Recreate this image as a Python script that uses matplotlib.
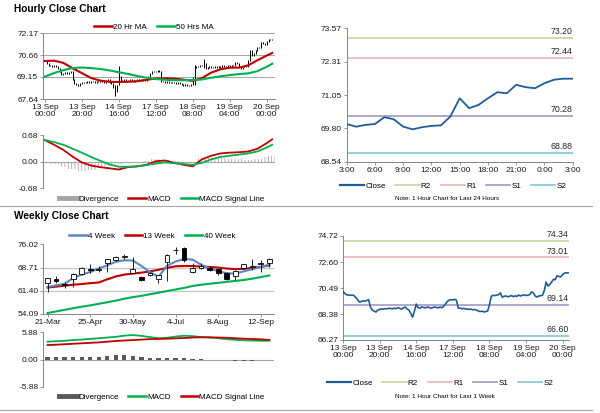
import matplotlib
matplotlib.use('Agg')
import matplotlib.pyplot as plt
from matplotlib.lines import Line2D
from matplotlib.patches import Rectangle
import numpy as np

plt.rcParams['font.family'] = ['Liberation Sans', 'DejaVu Sans']
plt.rcParams['hatch.linewidth'] = 0.6

# ---------------------------
# Hourly data (last week, trading hours)
# ---------------------------
hour_ticks = ['13 Sep\n00:00', '13 Sep\n20:00', '14 Sep\n16:00', '17 Sep\n12:00',
              '18 Sep\n08:00', '19 Sep\n04:00', '20 Sep\n00:00']
hour_close = [
    70.21, 70.05, 69.94, 69.92, 69.90, 69.92, 69.88, 69.73, 69.55, 69.35,
    69.40, 69.45, 69.42, 69.48, 69.55, 68.95, 68.70, 68.62, 68.54, 68.70,
    68.75, 68.80, 68.78, 68.82, 68.80, 68.85, 68.83, 68.80, 68.86, 68.82,
    68.90, 68.85, 68.78, 68.88, 68.95, 68.80, 68.70, 68.45, 68.12, 68.60,
    69.19, 68.90, 68.85, 68.95, 68.92, 68.88, 68.95, 68.92, 68.85, 68.90,
    68.95, 68.92, 68.88, 68.95, 68.90, 69.00, 69.20, 69.40, 69.50, 69.55,
    69.52, 69.58, 69.50, 68.85, 68.87, 68.80, 68.85, 68.78, 68.80, 68.75,
    68.78, 68.72, 68.75, 68.70, 68.62, 68.58, 68.62, 68.55, 68.58, 68.62,
    69.10, 69.81, 69.90, 69.88, 69.92, 69.95, 70.10, 69.75, 69.82, 69.85,
    69.78, 69.82, 69.88, 69.80, 69.85, 69.82, 69.92, 69.85, 69.90, 69.95,
    69.88, 69.92, 69.95, 70.18, 70.10, 69.85, 69.76, 69.84, 69.87, 69.90,
    70.28, 70.97, 70.65, 70.78, 70.98, 71.20, 71.17, 71.50, 71.42, 71.40,
    71.58, 71.70, 71.73, 71.73,
]
# a few long wicks seen on the hourly candles: (hour, low, high)
hour_wicks = [(38, 67.85, 68.60), (40, 68.60, 69.92), (81, 68.60, 70.00), (86, 69.80, 70.40)]
price_ticks_h = [67.64, 69.15, 70.66, 72.17]

ma_hours = [0, 5, 10, 15, 20, 25, 30, 35, 40, 45, 50, 55, 60, 65, 70, 75, 80,
            85, 90, 95, 100, 105, 110, 115, 120, 123]
ma20 = [70.25, 70.27, 70.12, 69.75, 69.42, 69.08, 68.90, 68.82, 68.81, 68.82,
        68.86, 68.96, 69.05, 69.06, 69.04, 68.97, 68.88, 69.08, 69.45, 69.68,
        69.79, 69.79, 69.95, 70.30, 70.62, 70.80]
ma50 = [69.17, 69.42, 69.62, 69.77, 69.80, 69.76, 69.70, 69.60, 69.48, 69.36,
        69.22, 69.10, 69.01, 68.96, 68.93, 68.93, 68.94, 68.98, 69.10, 69.20,
        69.28, 69.35, 69.40, 69.55, 69.85, 70.06]
macd_h = [0.55, 0.43, 0.30, 0.13, -0.02, -0.10, -0.14, -0.17, -0.20, -0.14,
          -0.12, -0.08, 0.01, 0.03, -0.03, -0.08, -0.12, 0.06, 0.15, 0.21,
          0.23, 0.24, 0.26, 0.33, 0.47, 0.57]
signal_h = [0.55, 0.50, 0.43, 0.33, 0.23, 0.12, 0.02, -0.07, -0.13, -0.13,
            -0.12, -0.09, -0.05, -0.02, -0.04, -0.06, -0.08, -0.03, 0.06, 0.12,
            0.15, 0.18, 0.21, 0.26, 0.36, 0.43]
div_h = [0.00, -0.07, -0.13, -0.20, -0.25, -0.22, -0.16, -0.10, -0.07, -0.01,
         0.00, 0.01, 0.06, 0.05, 0.01, -0.02, -0.04, 0.09, 0.09, 0.09,
         0.08, 0.06, 0.05, 0.07, 0.11, 0.14]
macd_ticks_h = [-0.68, 0.00, 0.68]

# ---------------------------
# Last 24 hours
# ---------------------------
day_ticks = ['3:00', '6:00', '9:00', '12:00', '15:00', '18:00', '21:00', '0:00', '3:00']
day_close = [69.96, 69.86, 69.93, 69.96, 70.22, 70.14, 69.86, 69.76, 69.84, 69.89,
             69.91, 70.24, 70.93, 70.56, 70.68, 70.93, 71.16, 71.12, 71.44, 71.35,
             71.31, 71.50, 71.63, 71.67, 71.67]
day_price_ticks = [68.54, 69.80, 71.05, 72.31, 73.57]
level_names = ['R2', 'R1', 'S1', 'S2']
level_colors = ['#C3D69B', '#E6B9B8', '#A597C8', '#7FC6D8']
day_levels = [73.20, 72.44, 70.28, 68.88]
week_levels = [74.34, 73.01, 69.14, 66.60]
week_price_ticks = [66.27, 68.38, 70.49, 72.60, 74.72]

# ---------------------------
# Weekly data
# ---------------------------
week_ticks = ['21-Mar', '25-Apr', '30-May', '4-Jul', '8-Aug', '12-Sep']
wk_open = [63.7, 65.1, 63.5, 65.2, 66.8, 68.2, 68.0, 70.0, 71.0, 72.0, 67.1, 65.6, 66.3,
           65.2, 70.5, 74.1, 74.7, 67.3, 68.6, 68.6, 68.2, 67.1, 66.1, 68.6, 68.8, 69.9, 70.0]
wk_high = [65.5, 66.1, 64.2, 67.0, 68.8, 69.7, 69.2, 71.5, 72.2, 73.1, 72.0, 65.9, 67.2,
           66.5, 73.0, 75.2, 75.2, 70.0, 70.0, 69.2, 68.7, 67.3, 67.8, 69.9, 71.5, 71.0, 71.8]
wk_low = [61.0, 63.7, 62.3, 62.6, 66.3, 67.1, 67.3, 67.3, 70.8, 71.3, 66.9, 64.5, 66.0,
          63.7, 64.4, 73.1, 70.5, 67.0, 68.4, 67.5, 66.5, 64.8, 64.7, 68.4, 67.9, 67.3, 68.9]
wk_close = [65.4, 64.6, 63.3, 66.8, 68.6, 68.0, 68.3, 71.3, 71.9, 72.3, 68.2, 64.7, 67.0,
            66.3, 72.8, 74.3, 71.0, 68.6, 69.2, 67.9, 67.1, 65.0, 67.5, 69.7, 69.1, 70.1, 71.3]
ma4 = [62.6, 63.1, 63.6, 65.4, 66.5, 67.3, 68.4, 69.4, 70.5, 71.0, 70.9, 69.2, 67.3,
       65.8, 69.2, 70.6, 71.4, 71.2, 69.6, 68.4, 67.6, 66.9, 66.8, 67.5, 68.2, 68.9, 69.6]
ma13 = [62.4, 62.7, 63.0, 63.3, 63.5, 63.8, 64.0, 65.0, 65.9, 66.5, 66.8, 67.1, 67.5,
        68.0, 68.6, 69.1, 69.2, 69.2, 69.0, 68.9, 68.7, 68.4, 68.2, 68.3, 68.6, 68.9, 69.4]
ma40 = [54.4, 54.9, 55.4, 55.9, 56.4, 56.8, 57.3, 57.8, 58.3, 58.9, 59.4, 59.8, 60.3,
        60.8, 61.3, 61.8, 62.3, 62.9, 63.3, 63.6, 63.9, 64.2, 64.5, 64.8, 65.2, 65.7, 66.2]
wk_macd = [3.85, 3.95, 4.05, 4.2, 4.3, 4.45, 4.6, 4.75, 4.9, 5.15, 5.3, 5.1, 4.85,
           4.6, 4.7, 4.95, 5.15, 5.05, 4.85, 4.75, 4.6, 4.4, 4.25, 4.15, 4.1, 4.05, 4.05]
wk_signal = [3.12, 3.2, 3.3, 3.4, 3.5, 3.6, 3.7, 3.85, 4.0, 4.1, 4.2, 4.3, 4.4,
             4.45, 4.5, 4.57, 4.65, 4.75, 4.8, 4.8, 4.75, 4.7, 4.6, 4.5, 4.45, 4.35, 4.25]
wk_div = [0.58, 0.58, 0.5, 0.5, 0.58, 0.58, 0.58, 0.73, 0.87, 0.87, 0.73, 0.44, 0.3,
          0.22, 0.3, 0.36, 0.3, 0.15, 0.07, 0.0, -0.07, -0.2, -0.25, -0.22, -0.3, -0.2, -0.2]
week_price_ticks_w = [54.09, 61.40, 68.71, 76.02]
macd_ticks_w = [-5.88, 0.00, 5.88]

RED = '#C00000'
GREEN = '#00B050'
BLUE4 = '#5B87C5'
CLOSE = '#1F5C99'
AXC = '#868686'
W, H = 600, 413


def px_axes(fig, left, top, right, bottom):
    return fig.add_axes([left / W, 1 - bottom / H, (right - left) / W, (bottom - top) / H])


def style(ax, bottom=True):
    for s in ['top', 'right']:
        ax.spines[s].set_visible(False)
    ax.spines['left'].set_color(AXC)
    ax.spines['left'].set_linewidth(0.7)
    ax.spines['bottom'].set_color(AXC)
    ax.spines['bottom'].set_linewidth(0.7)
    ax.spines['bottom'].set_visible(bottom)
    ax.tick_params(labelsize=6, color=AXC, labelcolor='#1a1a1a', length=2, width=0.6, pad=1.5)


def legend(fig, handles, labels, x, y, hl=2.2):
    fig.legend(handles, labels, loc='center', bbox_to_anchor=(x / W, 1 - y / H),
               ncol=len(handles), frameon=False, fontsize=5.8, handlelength=hl,
               handletextpad=0.15, columnspacing=1.2, borderpad=0)


fig = plt.figure(figsize=(6, 4.13), dpi=100)

fig.text(14 / W, 1 - 9 / H, 'Hourly Close Chart', fontsize=7.3, fontweight='bold', va='center')
fig.text(14 / W, 1 - 216 / H, 'Weekly Close Chart', fontsize=7.3, fontweight='bold', va='center')
for yy in [206, 410]:
    fig.add_artist(Line2D([0, 592 / W], [1 - yy / H] * 2, color='#A6A6A6', lw=0.8))

# ---------------------------
# Hourly candles + MAs
# ---------------------------
n = len(hour_close)
hrs = np.arange(n)
ax1 = px_axes(fig, 43, 33, 275, 99)
style(ax1)
ax1.set_xlim(-1, 124.5)
ax1.set_ylim(price_ticks_h[0], price_ticks_h[-1])
ax1.set_yticks(price_ticks_h)
ax1.set_yticklabels(['%.2f' % v for v in price_ticks_h])
ax1.yaxis.grid(True, color='#A6A6A6', lw=0.7)
ax1.set_axisbelow(True)
prev = np.array(hour_close[:-1])
cur = np.array(hour_close[1:])
lo = np.minimum(prev, cur) - 0.03
hi = np.maximum(prev, cur) + 0.03
ax1.vlines(hrs[1:], lo, hi, color='black', lw=0.7, zorder=2)
for h, l, u in hour_wicks:
    ax1.vlines(h, l, u, color='black', lw=0.7, zorder=2)
ax1.plot(ma_hours, ma20, color=RED, lw=1.5, zorder=3)
ax1.plot(ma_hours, ma50, color=GREEN, lw=1.5, zorder=3)
ax1.set_xticks(range(0, 121, 20))
ax1.set_xticklabels(hour_ticks, linespacing=1.1)
legend(fig, [Line2D([], [], color=RED, lw=1.8), Line2D([], [], color=GREEN, lw=1.8)],
       ['20 Hr MA', '50 Hrs MA'], 154, 27)

# ---------------------------
# Hourly MACD
# ---------------------------
ax2 = px_axes(fig, 43, 135, 275, 188.3)
style(ax2, bottom=False)
ax2.set_xlim(-1, 124.5)
ax2.set_ylim(-0.68, 0.68)
ax2.set_yticks(macd_ticks_h)
ax2.set_yticklabels(['%.2f' % v for v in macd_ticks_h])
ax2.set_xticks([])
ax2.axhline(0, color='#A6A6A6', lw=0.8, zorder=1)
ax2.bar(ma_hours, div_h, width=5, facecolor='none', edgecolor='#A6A6A6', hatch='|||||',
        lw=0, zorder=2)
ax2.plot(ma_hours, macd_h, color=RED, lw=1.3, zorder=3)
ax2.plot(ma_hours, signal_h, color=GREEN, lw=1.3, zorder=3)
legend(fig, [Line2D([], [], color='#A6A6A6', lw=3.5), Line2D([], [], color=RED, lw=1.8),
             Line2D([], [], color=GREEN, lw=1.8)],
       ['Divergence', 'MACD', 'MACD Signal Line'], 162, 199)

# ---------------------------
# Last 24 hours with pivots
# ---------------------------
ax3 = px_axes(fig, 346.7, 28.3, 572.7, 161.7)
style(ax3)
ax3.set_xlim(0, 24)
ax3.set_ylim(day_price_ticks[0], day_price_ticks[-1])
ax3.set_yticks(day_price_ticks)
ax3.set_yticklabels(['%.2f' % v for v in day_price_ticks])
ax3.set_xticks(range(0, 25, 3))
ax3.set_xticklabels(day_ticks)
handles = [Line2D([], [], color=CLOSE, lw=1.6)]
for name, col, lev in zip(level_names, level_colors, day_levels):
    ax3.axhline(lev, color=col, lw=1.2, zorder=1)
    ax3.text(23.95, lev + 0.07, '%.2f' % lev, fontsize=6.3, ha='right', va='bottom', color='#262626')
    handles.append(Line2D([], [], color=col, lw=1.2))
ax3.plot(range(len(day_close)), day_close, color=CLOSE, lw=1.3, zorder=3)
legend(fig, handles, ['Close'] + level_names, 453, 186, hl=3.0)
fig.text(447 / W, 1 - 199 / H, 'Note: 1 Hour Chart for Last 24 Hours', fontsize=4.6,
         ha='center', va='center')

# ---------------------------
# Weekly candles + MAs
# ---------------------------
nw = len(wk_close)
wks = np.arange(nw)
ax4 = px_axes(fig, 43.3, 244.3, 273.6, 314)
style(ax4)
ax4.set_xlim(-0.5, nw - 0.5)
ax4.set_ylim(week_price_ticks_w[0], week_price_ticks_w[-1])
ax4.set_yticks(week_price_ticks_w)
ax4.set_yticklabels(['%.2f' % v for v in week_price_ticks_w])
for g in week_price_ticks_w[1:3]:
    ax4.axhline(g, color='#C8C8C8', lw=1.0, zorder=0)
ax4.plot(wks, ma40, color=GREEN, lw=1.5, zorder=2)
ax4.plot(wks, ma13, color=RED, lw=1.5, zorder=2)
ax4.plot(wks, ma4, color=BLUE4, lw=1.5, zorder=2)
ax4.vlines(wks, wk_low, wk_high, color='black', lw=0.6, zorder=3)
for w in wks:
    o, c = wk_open[w], wk_close[w]
    fc = 'white' if c >= o else 'black'
    ax4.add_patch(Rectangle((w - 0.28, min(o, c)), 0.56, max(abs(c - o), 0.12),
                            facecolor=fc, edgecolor='black', lw=0.6, zorder=4))
ax4.set_xticks(range(0, nw, 5))
ax4.set_xticklabels(week_ticks)
legend(fig, [Line2D([], [], color=BLUE4, lw=1.8), Line2D([], [], color=RED, lw=1.8),
             Line2D([], [], color=GREEN, lw=1.8)],
       ['4 Week', '13 Week', '40 Week'], 152, 236)

# ---------------------------
# Weekly MACD
# ---------------------------
ax5 = px_axes(fig, 43.3, 332.3, 273.6, 386.7)
style(ax5, bottom=False)
ax5.set_xlim(-0.5, nw - 0.5)
ax5.set_ylim(-5.88, 5.88)
ax5.set_yticks(macd_ticks_w)
ax5.set_yticklabels(['%.2f' % v for v in macd_ticks_w])
ax5.set_xticks([])
ax5.axhline(0, color='#A6A6A6', lw=0.8, zorder=1)
ax5.bar(wks, wk_div, width=0.5, color='#595959', zorder=2)
ax5.plot(wks, wk_macd, color=GREEN, lw=1.3, zorder=3)
ax5.plot(wks, wk_signal, color=RED, lw=1.3, zorder=3)
legend(fig, [Line2D([], [], color='#595959', lw=3.5), Line2D([], [], color=GREEN, lw=1.8),
             Line2D([], [], color=RED, lw=1.8)],
       ['Divergence', 'MACD', 'MACD Signal Line'], 162, 397)

# ---------------------------
# Last week hourly with pivots
# ---------------------------
ax6 = px_axes(fig, 343, 236, 569, 340)
style(ax6)
ax6.set_xlim(0, 123.5)
ax6.set_ylim(week_price_ticks[0], week_price_ticks[-1])
ax6.set_yticks(week_price_ticks)
ax6.set_yticklabels(['%.2f' % v for v in week_price_ticks])
ax6.set_xticks(range(0, 121, 20))
ax6.set_xticklabels(hour_ticks, linespacing=1.1)
handles = [Line2D([], [], color=CLOSE, lw=1.6)]
for name, col, lev in zip(level_names, level_colors, week_levels):
    ax6.axhline(lev, color=col, lw=1.2, zorder=1)
    ax6.text(123.3, lev + 0.12, '%.2f' % lev, fontsize=6.3, ha='right', va='bottom', color='#262626')
    handles.append(Line2D([], [], color=col, lw=1.2))
ax6.plot(hrs, hour_close, color=CLOSE, lw=1.2, zorder=3)
legend(fig, handles, ['Close'] + level_names, 440, 383, hl=3.0)
fig.text(445 / W, 1 - 397 / H, 'Note: 1 Hour Chart for Last 1 Week', fontsize=4.6,
         ha='center', va='center')

fig.savefig('out.png', dpi=100)
